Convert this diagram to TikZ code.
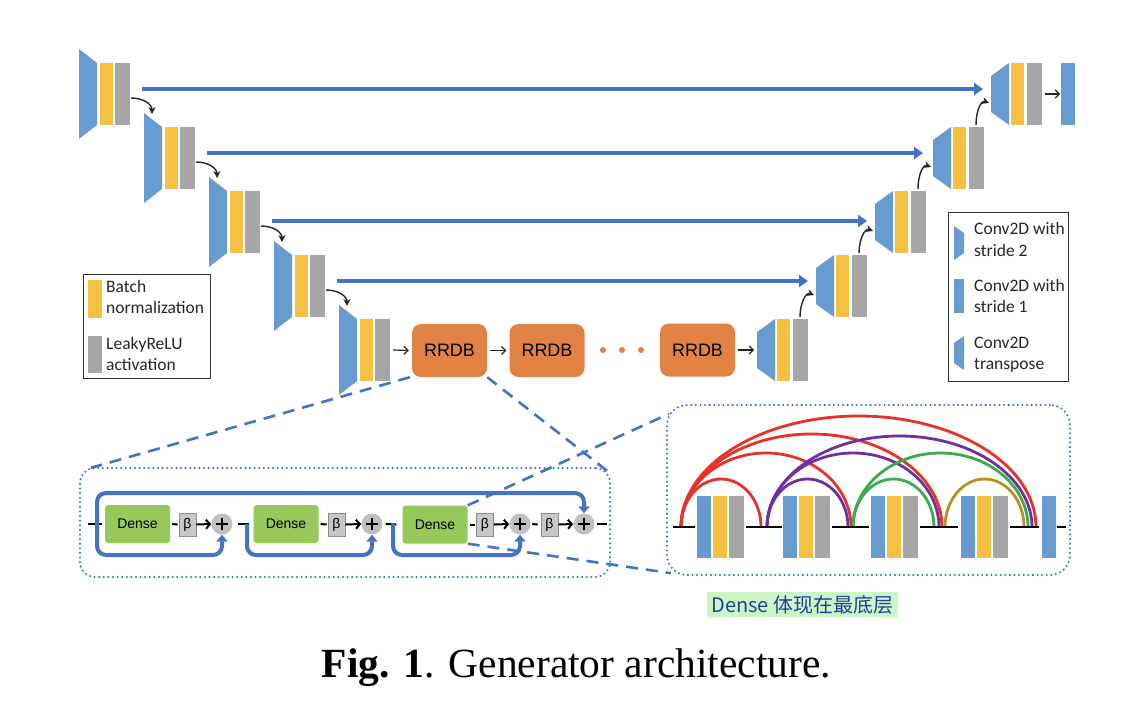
\documentclass[tikz,border=0pt]{standalone}
\usepackage{fontspec}
\setmainfont{Carlito}
\newfontfamily\arifont{Liberation Sans}
\newfontfamily\tmsfont{Liberation Serif}
\newfontfamily\cjkfont{Noto Sans CJK SC}
\usetikzlibrary{arrows.meta,calc}
\definecolor{convc}{RGB}{104,155,208}
\definecolor{bnc}{RGB}{246,192,67}
\definecolor{actc}{RGB}{166,166,166}
\definecolor{skipc}{RGB}{68,114,196}
\definecolor{rrdbc}{RGB}{226,130,66}
\definecolor{densec}{RGB}{150,200,90}
\definecolor{dotc}{RGB}{46,117,200}
\definecolor{redc}{RGB}{232,50,40}
\definecolor{purc}{RGB}{112,48,160}
\definecolor{grnc}{RGB}{60,170,80}
\definecolor{gldc}{RGB}{185,145,40}
\definecolor{labc}{RGB}{30,64,160}
\definecolor{hlc}{RGB}{204,247,196}
\definecolor{betac}{RGB}{200,200,200}
\definecolor{plusc}{RGB}{192,192,192}

\newcommand\encblk[3]{%
  \fill[convc] (#2,{#3-45}) -- ({#2+18},{#3-31}) -- ({#2+18},{#3+31}) -- (#2,{#3+45}) -- cycle;
  \coordinate (#1in) at ({#2+8},{#3-44});
  \node[bnbox] (#1b) at ({#2+27.5},#3) {};
  \node[actbox] (#1a) at ({#2+43.5},#3) {};
}
\newcommand\decblk[3]{%
  \fill[convc] (#2,{#3-18}) -- ({#2+18},{#3-31}) -- ({#2+18},{#3+31}) -- (#2,{#3+18}) -- cycle;
  \coordinate (#1in) at (#2,#3);
  \coordinate (#1L) at ({#2-2},{#3+9});
  \node[bnbox] (#1b) at ({#2+26.5},#3) {};
  \node[actbox] (#1a) at ({#2+43},#3) {};
}
\newcommand\densearc[4]{%
  \draw[arcline,#1] (#2,527) arc[start angle=180,end angle=0,x radius={(#3-#2)/2*1pt},y radius={(527-#4)*1pt}];
}

\begin{document}
\begin{tikzpicture}[x=1pt,y=-1pt,
  bnbox/.style={fill=bnc,minimum width=13pt,minimum height=62pt,inner sep=0pt,outer sep=0pt},
  actbox/.style={fill=actc,minimum width=15pt,minimum height=62pt,inner sep=0pt,outer sep=0pt},
  convbox/.style={fill=convc,minimum width=14pt,minimum height=62pt,inner sep=0pt,outer sep=0pt},
  skipline/.style={draw=skipc,line width=4.5pt,-{Triangle[length=9pt,width=12pt]}},
  carrow/.style={draw=black!85,line width=1.4pt,-{Stealth[length=7pt,width=7pt]}},
  arr/.style={draw=black!85,line width=1.2pt,-{Straight Barb[length=4pt,width=8pt]}},
  rrdb/.style={fill=rrdbc,rounded corners=9pt,minimum width=75pt,minimum height=53pt,inner sep=0pt,font=\arifont\fontsize{18}{20}\selectfont},
  legtxt/.style={anchor=base west,inner sep=0pt,text=black!85,font=\fontsize{17.5}{21}\selectfont},
  dotbox/.style={draw=dotc,line width=2.3pt,dash pattern=on 0pt off 4.6pt,line cap=round,rounded corners=15pt,inner sep=0pt},
  densebox/.style={fill=densec,rounded corners=3pt,minimum width=65pt,minimum height=38pt,inner sep=0pt,font=\arifont\fontsize{14}{16}\selectfont},
  betabox/.style={fill=betac,draw=black!45,line width=0.6pt,minimum width=17pt,minimum height=23pt,inner sep=0pt,font=\arifont\fontsize{14}{16}\selectfont},
  plusnode/.style={circle,fill=plusc,minimum size=21pt,inner sep=0pt},
  plusbar/.style={draw=black,line width=1.8pt},
  blk/.style={draw=black,line width=2pt},
  blkarr/.style={draw=black,line width=2pt,-{Straight Barb[length=4pt,width=9pt]}},
  loopline/.style={draw=skipc,line width=4pt,rounded corners=9pt,-{Triangle[length=7pt,width=11pt]}},
  zoomline/.style={draw=skipc,line width=2.6pt,dash pattern=on 12pt off 8pt},
  seg/.style={draw=black,line width=2.5pt},
  arcline/.style={line width=2.8pt}
]
\useasboundingbox (0,0) rectangle (1134,704);
\fill[white] (0,0) rectangle (1134,704);

% ---------- encoder ----------
\encblk{e1}{79}{94}
\encblk{e2}{144}{158}
\encblk{e3}{209}{222}
\encblk{e4}{274}{286}
\encblk{e5}{339}{350}

% ---------- decoder ----------
\decblk{d5}{757}{350}
\decblk{d4}{816}{286}
\decblk{d3}{875}{222}
\decblk{d2}{933}{158}
\decblk{d1}{991}{94}
\node[convbox] (outc) at (1068,94) {};

% ---------- skip connections ----------
\draw[skipline] ([xshift=12pt,yshift=5pt]e1a.east) -- ([xshift=-8pt,yshift=5pt]d1in);
\draw[skipline] ([xshift=12pt,yshift=5pt]e2a.east) -- ([xshift=-10pt,yshift=5pt]d2in);
\draw[skipline] ([xshift=12pt,yshift=1pt]e3a.east) -- ([xshift=-8pt,yshift=1pt]d3in);
\draw[skipline] ([xshift=12pt,yshift=5pt]e4a.east) -- ([xshift=-8pt,yshift=5pt]d4in);

% ---------- curved arrows ----------
\draw[carrow] ([xshift=1pt,yshift=-4pt]e1a.east) .. controls +(12,0) and +(0,-10) .. (e2in);
\draw[carrow] ([xshift=1pt,yshift=-4pt]e2a.east) .. controls +(12,0) and +(0,-10) .. (e3in);
\draw[carrow] ([xshift=1pt,yshift=-4pt]e3a.east) .. controls +(12,0) and +(0,-10) .. (e4in);
\draw[carrow] ([xshift=1pt,yshift=-4pt]e4a.east) .. controls +(12,0) and +(0,-10) .. (e5in);
\draw[carrow] ([yshift=2pt]d5a.north) .. controls +(0,-14) and +(-8,-3) .. (d4L);
\draw[carrow] ([yshift=2pt]d4a.north) .. controls +(0,-14) and +(-8,-3) .. (d3L);
\draw[carrow] ([yshift=2pt]d3a.north) .. controls +(0,-14) and +(-8,-3) .. (d2L);
\draw[carrow] ([yshift=2pt]d2a.north) .. controls +(0,-14) and +(-8,-3) .. (d1L);
\draw[arr] ([xshift=3pt]d1a.east) -- ([xshift=-1pt]outc.west);

% ---------- RRDB chain ----------
\node[rrdb] (r1) at (449.5,350.5) {RRDB};
\node[rrdb] (r2) at (547,350.5) {RRDB};
\node[rrdb] (r3) at (697.5,350) {RRDB};
\fill[rrdbc] (603,350) circle (3pt) (622,350) circle (3pt) (641,350) circle (3pt);
\draw[arr] ([xshift=3pt]e5a.east) -- ([xshift=-3pt]r1.west);
\draw[arr] ([xshift=3pt]r1.east) -- ([xshift=-3pt]r2.west);
\draw[arr] ([xshift=3pt]r3.east) -- ([xshift=-3pt]d5in);

% ---------- left legend ----------
\draw[black!80,line width=0.9pt] (83,274) rectangle (210,378);
\fill[bnc] (88,280) rectangle (102,318);
\fill[actc] (88,336) rectangle (102,373);
\node[legtxt] (lb1) at (106,292.5) {Batch};
\node[legtxt] (lb2) at (106,313.5) {normalization};
\node[legtxt] (lb3) at (106,349.5) {LeakyReLU};
\node[legtxt] (lb4) at (106,370.5) {activation};

% ---------- right legend ----------
\draw[black!80,line width=0.9pt] (948,212) rectangle (1068,381);
\fill[convc] (954,226) -- (964,233) -- (964,253) -- (954,260) -- cycle;
\fill[convc] (954,279) rectangle (964,313);
\fill[convc] (954,343) -- (964,336) -- (964,370) -- (954,363) -- cycle;
\node[legtxt] (lr1) at (974,234.5) {Conv2D with};
\node[legtxt] (lr2) at (974,256.5) {stride 2};
\node[legtxt] (lr3) at (974,291.5) {Conv2D with};
\node[legtxt] (lr4) at (974,312.5) {stride 1};
\node[legtxt] (lr5) at (974,348.5) {Conv2D};
\node[legtxt] (lr6) at (974,369.5) {transpose};

% ---------- RRDB detail box ----------
\node[dotbox,minimum width=530pt,minimum height=109pt] (box1) at (345,522.5) {};
\node[densebox] (dn1) at (137.5,524) {Dense};
\node[densebox] (dn2) at (286,524) {Dense};
\node[densebox] (dn3) at (435,524.5) {Dense};
\node[betabox] (b1) at (187.5,524.5) {β};
\node[betabox] (b2) at (336.5,524.5) {β};
\node[betabox] (b3) at (485,524.5) {β};
\node[betabox] (b4) at (549.5,524.5) {β};
\node[plusnode] (p1) at (222,524) {};
\node[plusnode] (p2) at (372,524) {};
\node[plusnode] (p3) at (520,524) {};
\node[plusnode] (p4) at (584,524) {};
\foreach \p in {p1,p2,p3,p4}{
  \draw[plusbar] ([xshift=-6pt]\p.center) -- ([xshift=6pt]\p.center);
  \draw[plusbar] ([yshift=-6pt]\p.center) -- ([yshift=6pt]\p.center);
}
\coordinate (in1) at (88,524);
\coordinate (out1) at (607,524);
\draw[blk] (in1) -- ([xshift=-3pt]dn1.west);
\draw[blk] ([xshift=2pt]dn1.east) -- ([xshift=-1pt]b1.west);
\draw[blkarr] (b1.east) -- (p1.west);
\draw[blk] ([xshift=5pt]p1.east) -- ([xshift=-4pt]dn2.west);
\draw[blk] ([xshift=2pt]dn2.east) -- ([xshift=-1pt]b2.west);
\draw[blkarr] (b2.east) -- (p2.west);
\draw[blk] ([xshift=3pt]p2.east) -- ([xshift=-6pt]dn3.west);
\draw[blk] ([xshift=2pt]dn3.east) -- ([xshift=-1pt]b3.west);
\draw[blkarr] (b3.east) -- (p3.west);
\draw[blk] ([xshift=1.5pt]p3.east) -- ([xshift=-3pt]b4.west);
\draw[blkarr] (b4.east) -- (p4.west);
\draw[blk] ([xshift=2pt]p4.east) -- (out1);

\coordinate (ls1) at (97,524);
\coordinate (ls2) at (247,524);
\coordinate (ls3) at (393,524);
\coordinate (ltop) at (0,493);
\coordinate (lbot) at (0,555);
\draw[loopline] (ls1) -- (ls1 |- ltop) -- (p4.north |- ltop) -- (p4.north);
\draw[loopline] (ls1) -- (ls1 |- lbot) -- (p1.south |- lbot) -- (p1.south);
\draw[loopline] (ls2) -- (ls2 |- lbot) -- (p2.south |- lbot) -- (p2.south);
\draw[loopline] (ls3) -- (ls3 |- lbot) -- (p3.south |- lbot) -- (p3.south);

% ---------- dense block detail box ----------
\node[dotbox,rounded corners=20pt,minimum width=403pt,minimum height=170pt] (box2) at (868.5,490) {};
\densearc{redc}{681}{1036}{416}
\densearc{redc}{681}{942}{434}
\densearc{redc}{681}{851}{453}
\densearc{redc}{681}{761}{479}
\densearc{purc}{767}{1032}{436}
\densearc{purc}{767}{939}{453}
\densearc{purc}{767}{848}{479}
\densearc{grnc}{853}{1028}{453}
\densearc{grnc}{853}{934}{479}
\densearc{gldc}{945}{1024}{479}

\node[convbox] (k1c) at (704,527) {};
\node[bnbox,minimum width=14pt] (k1b) at (720,527) {};
\node[actbox] (k1a) at (736.5,527) {};
\node[convbox] (k2c) at (790,527) {};
\node[bnbox,minimum width=14pt] (k2b) at (806,527) {};
\node[actbox] (k2a) at (822.5,527) {};
\node[convbox] (k3c) at (878,527) {};
\node[bnbox,minimum width=14pt] (k3b) at (894,527) {};
\node[actbox] (k3a) at (910.5,527) {};
\node[convbox] (k4c) at (968,527) {};
\node[bnbox,minimum width=14pt] (k4b) at (983.5,527) {};
\node[actbox] (k4a) at (1000,527) {};
\node[convbox] (k5c) at (1049,527) {};
\coordinate (s0) at (673,527);
\coordinate (s6) at (1066,527);
\draw[seg] (s0) -- ([xshift=-2pt]k1c.west);
\draw[seg] ([xshift=2pt]k1a.east) -- ([xshift=-1pt]k2c.west);
\draw[seg] ([xshift=2pt]k2a.east) -- ([xshift=-2pt]k3c.west);
\draw[seg] ([xshift=2pt]k3a.east) -- ([xshift=-3pt]k4c.west);
\draw[seg] ([xshift=2pt]k4a.east) -- ([xshift=-3pt]k5c.west);
\draw[seg] ([xshift=1pt]k5c.east) -- (s6);

% ---------- zoom lines ----------
\draw[zoomline] ([xshift=-2pt]r1.south west) -- ([xshift=12pt,yshift=-1pt]box1.north west);
\draw[zoomline] (r1.south east) -- ([xshift=-4pt,yshift=-4pt]box1.north east);
\draw[zoomline] (dn3.north east) -- ([xshift=3pt,yshift=-10pt]box2.north west);
\draw[zoomline] (dn3.south east) -- ([xshift=5pt,yshift=3pt]box2.south west);

% ---------- labels ----------
\node[fill=hlc,text=labc,minimum width=191pt,minimum height=25pt,inner sep=0pt,font=\cjkfont\fontsize{20}{22}\selectfont] (cn) at (802.5,604.5) {Dense 体现在最底层};
\node[anchor=base,inner sep=0pt,font=\tmsfont\fontsize{41.5}{44}\selectfont] (cap) at (576.5,677) {\textbf{Fig. 1}. Generator architecture.};
\end{tikzpicture}
\end{document}
